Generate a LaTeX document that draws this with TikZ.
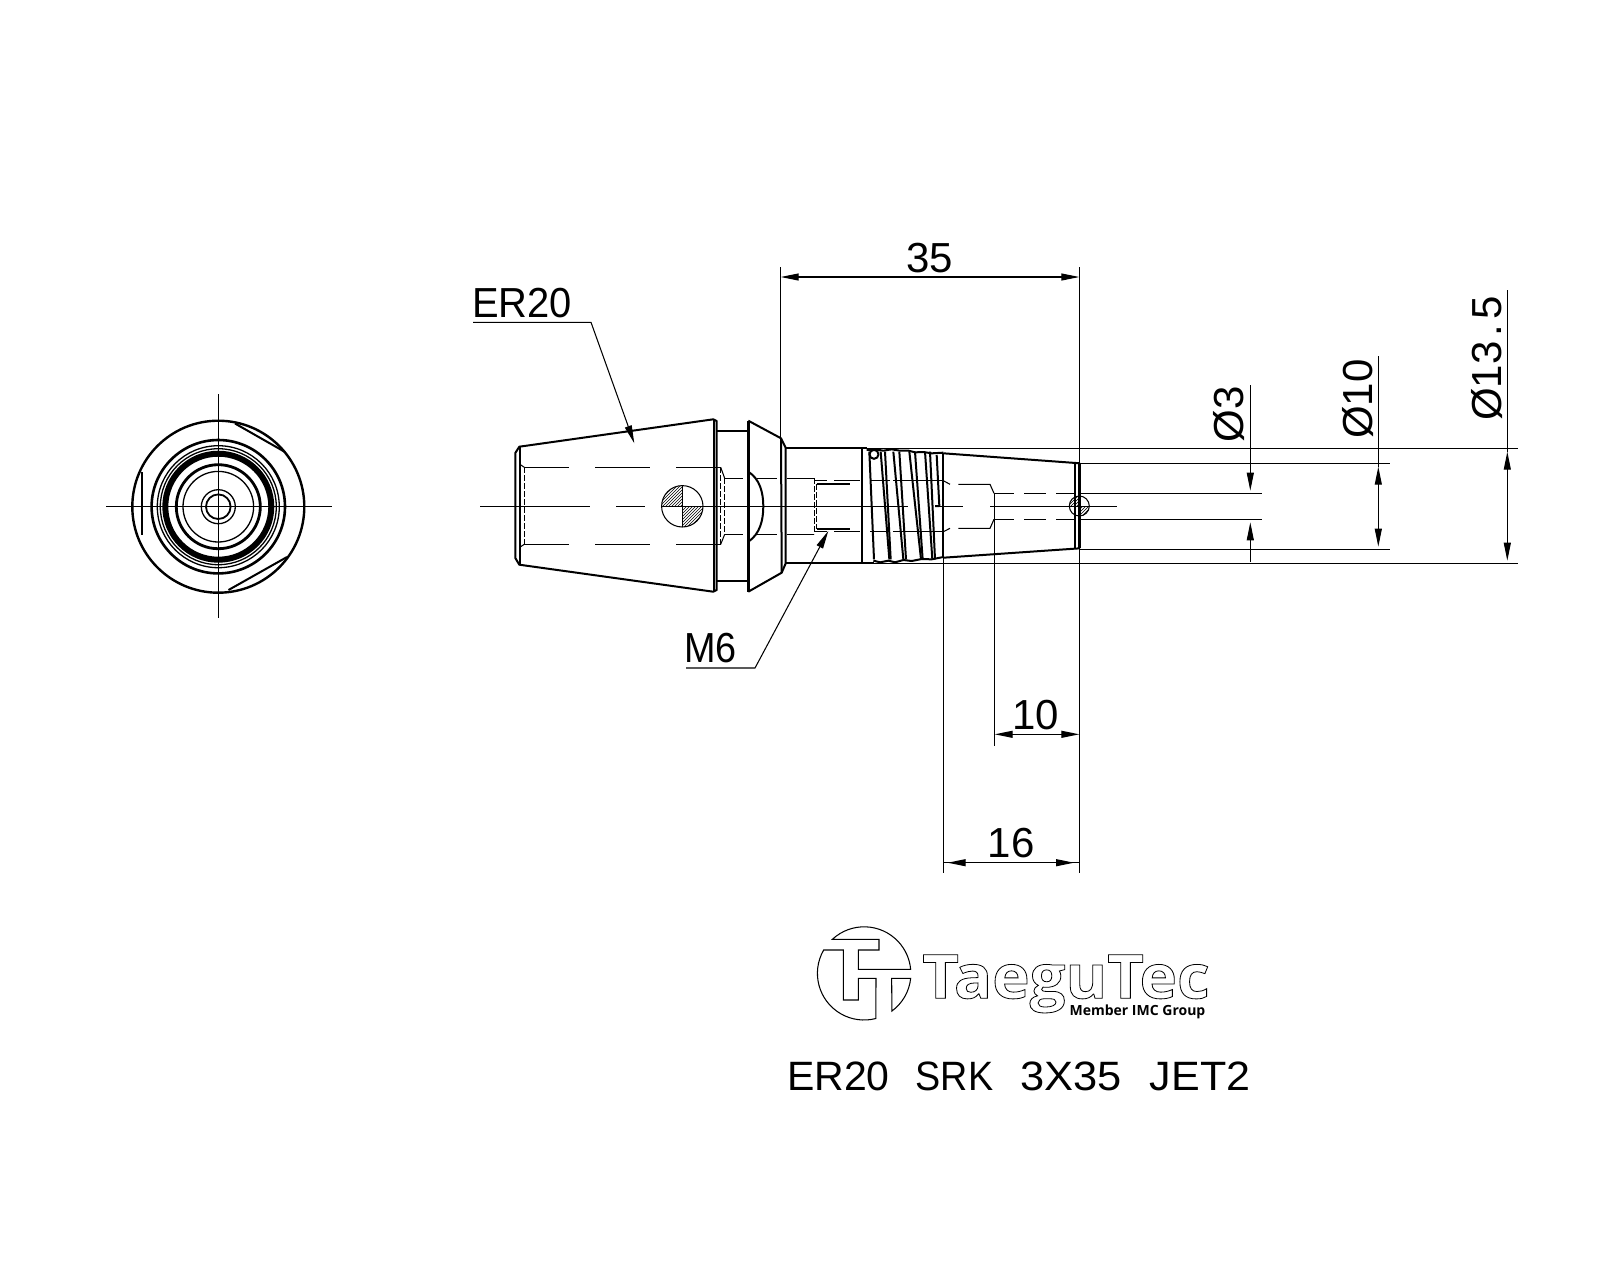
\documentclass[tikz,border=0pt]{standalone}
\usepackage{xcolor}
\usepackage{fontspec}
\setmainfont{Liberation Sans}
\newfontfamily\logofont{Open Sans}
\usetikzlibrary{arrows.meta,patterns}
\newcommand{\outlinetext}[1]{\special{pdf:code 1 Tr 0.8 w}#1\special{pdf:code 0 Tr 1 w}}
\begin{document}
\begin{tikzpicture}[x=1pt,y=-1pt,
  bodyline/.style={line width=2pt,line join=round},
  heavyline/.style={line width=3.2pt},
  thinline/.style={line width=1.05pt},
  dimtip/.style={-{Triangle[length=18pt,width=7pt]}},
  dimboth/.style={{Triangle[length=18pt,width=7pt]}-{Triangle[length=18pt,width=7pt]}},
  dimtext/.style={anchor=base,inner sep=0pt,font=\fontsize{42}{42}\selectfont}]
\useasboundingbox (0,0) rectangle (1600,1280);

% end view
\draw[thinline](106,506.7) -- (331.7,506.7);
\draw[thinline](218.3,394) -- (218.3,618);
\foreach\r/\w in{86/2.4,66.7/2.6,61/1.3,58/1.3,53/6,42/2.8,35.3/1.3,17/1.3,12.3/1.8}{\draw[line width=\w pt](218.3,506.7) circle[radius=\r pt];};
\draw[bodyline](235,423.5) -- (285,452);
\draw[bodyline](228.5,590) -- (287,557);
\draw[bodyline](141.7,472) -- (141.7,535);

% taper
\draw[bodyline](519.3,446.7) -- (713.3,419.3) -- (716.7,421) -- (716.7,590) -- (713.3,591.7) -- (519.3,564.7) -- (515.3,558) -- (515.3,453) -- cycle;
\draw[bodyline](520,446.7) -- (520,564.7);
\draw[bodyline](713.5,419.3) -- (713.5,591.7);
\draw[bodyline](717,430.7) -- (747,430.7);
\draw[bodyline](717,581) -- (747,581);

% flange
\draw[heavyline](748.3,420.7) -- (748.3,591.7);
\draw[bodyline](748.3,420.7) -- (781,438.3) -- (781.7,572.7) -- (748.3,591.7);
\draw[bodyline](781,438.3) -- (785.7,447.7) -- (785.7,563.3) -- (781.7,572.7);
\draw[bodyline](748.3,471.7) .. controls (760,479) and (763.3,493) .. (763.3,506.3) .. controls (763.3,520) and (760,534) .. (748.3,541.7);

% shank
\draw[bodyline](785.7,447.7) -- (866.7,447.7);
\draw[bodyline](785.7,563.3) -- (874,563.3);
\draw[bodyline](862,447.7) -- (862,563.3);

% cone
\draw[bodyline](943.3,453.3) -- (1080,463.3);
\draw[bodyline](943.3,557.7) -- (1080,548.3);
\draw[bodyline](943.3,453.3) -- (943.3,557.7);
\draw[bodyline](1075,463.3) -- (1075,548.3);
\draw[line width=2.6pt](1079.5,463.3) -- (1079.5,548.3);

% thread
\begin{scope}[shift={(850,420)},scale=1/3]
\foreach\a/\b in{58/72,92/118,105/122,130/160,148/168,178/213,195/218,225/247,240/255}{\draw[bodyline](\a,95) -- (\b,418);};
\draw[bodyline](260,105) -- (268,258) -- (255,258);
\draw[bodyline](50,90) -- (75,88) -- (100,92) -- (125,88) -- (150,92) -- (175,92) -- (195,97) -- (220,96) -- (245,100) -- (280,98);
\draw[bodyline](70,422) -- (90,427) -- (115,422) -- (135,427) -- (160,420) -- (185,423) -- (215,417) -- (245,418) -- (280,411);
\draw[bodyline](72,103) circle[radius=13.5pt];
\end{scope}

% hidden lines
\foreach\a/\b in{524.3/569,595/650,676/720.7}{
  \draw[thinline](\a,467.3) -- (\b,467.3);
  \draw[thinline](\a,544.3) -- (\b,544.3);};
\foreach\a/\b in{725/743,757/777,787/814.3}{
  \draw[thinline](\a,478.3) -- (\b,478.3);
  \draw[thinline](\a,534.3) -- (\b,534.3);};
\foreach\a/\b in{815/827,834/860,870/890,893.3/943.3}{
  \draw[thinline](\a,480.7) -- (\b,480.7);
  \draw[thinline](\a,531.7) -- (\b,531.7);};
\foreach\a/\b in{994.7/1014,1024/1046,1056/1076}{
  \draw[thinline](\a,493.3) -- (\b,493.3);
  \draw[thinline](\a,519.3) -- (\b,519.3);};
\draw[thinline](519.3,464) -- (524.3,467.3);
\draw[thinline](519.3,547.6) -- (524.3,544.3);
\draw[thinline](720.7,467.3) -- (724.7,478.3);
\draw[thinline](720.7,544.3) -- (724.7,534.3);
\draw[thinline,dashed,dash pattern=on 6pt off 2pt](524.3,467.3) -- (524.3,544.3);
\draw[thinline,dashed,dash pattern=on 6pt off 2pt](720.7,467.3) -- (720.7,544.3);
\draw[thinline,dashed,dash pattern=on 6pt off 2pt](724.7,478.3) -- (724.7,534.3);
\draw[thinline,dashed,dash pattern=on 6pt off 2pt](814.3,478.3) -- (814.3,534.3);
\draw[thinline,dashed,dash pattern=on 6pt off 2pt](816.7,484) -- (816.7,529);
\draw[thinline,dashed,dash pattern=on 6pt off 2pt](994.7,493.3) -- (994.7,519.3);
\draw[thinline](816.7,484) -- (850,484);
\draw[thinline](816.7,529) -- (850,529);
\draw[thinline](943.3,480.7) -- (950,484.3);
\draw[thinline](943.3,531.7) -- (950,528.3);
\draw[thinline](958.3,484.3) -- (990,484.3) -- (994,493.3);
\draw[thinline](958.3,528.3) -- (990,528.3) -- (994,519.3);

% axis
\foreach\a/\b in{480/590,616/645,662/908,935/963,990/1116.7}{\draw[thinline](\a,506.3) -- (\b,506.3);};

% cross holes
\draw[thinline](682.3,506.3) circle[radius=20.7pt];
\draw[thinline](682.3,485.6) -- (682.3,527);
\fill[pattern=north east lines](661.6,506.3) arc[start angle=180,end angle=90,radius=20.7pt] -- (682.3,506.3) -- cycle;
\fill[pattern=north east lines](703,506.3) arc[start angle=0,end angle=-90,radius=20.7pt] -- (682.3,506.3) -- cycle;
\draw[thinline](1079.3,506) circle[radius=10pt];
\fill[pattern=north east lines](1069.3,506) arc[start angle=180,end angle=90,radius=10pt] -- (1079.3,506) -- cycle;
\fill[pattern=north east lines](1089.3,506) arc[start angle=0,end angle=-90,radius=10pt] -- (1079.3,506) -- cycle;

% extension lines
\draw[thinline](780.7,267) -- (780.7,438);
\draw[thinline](1079.3,267) -- (1079.3,873.3);
\draw[thinline](943.3,557) -- (943.3,873.3);
\draw[thinline](994.7,493) -- (994.7,746);
\draw[thinline](866,448.3) -- (1518,448.3);
\draw[thinline](1079,463.3) -- (1390,463.3);
\draw[thinline](1079,493.3) -- (1261.7,493.3);
\draw[thinline](1079,519.3) -- (1261.7,519.3);
\draw[thinline](1079,549.3) -- (1390,549.3);
\draw[thinline](866,563.3) -- (1518,563.3);

% dimensions
\draw[thinline,dimboth](780.7,277) -- (1079.3,277);
\draw[thinline,dimboth](994.7,734.3) -- (1079.3,734.3);
\draw[thinline](943.3,862.7) -- (1079.3,862.7);
\draw[thinline,dimboth](947.7,862.7) -- (1074,862.7);
\draw[thinline,dimtip](1250.3,385) -- (1250.3,490.7);
\draw[thinline,dimtip](1250.3,561.7) -- (1250.3,522.3);
\draw[thinline](1378.3,356) -- (1378.3,466.7);
\draw[thinline,dimboth](1378.3,466.7) -- (1378.3,546.7);
\draw[thinline](1507.3,290) -- (1507.3,451.7);
\draw[thinline,dimboth](1507.3,451.7) -- (1507.3,560.7);
\node[dimtext] (dim35) at (929.5,272.7) {35};
\node[dimtext] (dim10) at (1035.5,729) {10};
\node[dimtext] (dim16) at (1011,857) {16};
\node[dimtext,rotate=90] (dia3) at (1243,414) {Ø3};
\node[dimtext,rotate=90] (dia10) at (1372.7,399) {Ø10};
\node[dimtext,rotate=90] (dia13) at (1501,358.7) {Ø13\kern5pt.\kern5pt5};

% leaders
\coordinate (tipER) at (634.3,443.3);
\coordinate (tipM) at (828.3,531);
\node[dimtext,anchor=base west,xscale=0.95] (labelER) at (472,317) {ER20};
\node[dimtext,anchor=base west,xscale=0.9] (labelM) at (684,662.7) {M6};
\draw[thinline,dimtip](473,322.3) -- (591,322.3) -- (tipER);
\draw[thinline,dimtip](686,668) -- (755,668) -- (tipM);

% logo
\begin{scope}[shift={(800,910)},scale=1/3]
\draw[thinline](97,88) arc[start angle=133,end angle=5,radius=140pt] -- (175,178) -- (175,120) -- (237,120) -- (237,88) -- cycle;
\draw[thinline](71,120) arc[start angle=150,end angle=284.6,radius=140pt] -- (228,205) -- (175,205) -- (175,270) -- (130,270) -- (130,120) -- cycle;
\draw[thinline](332,205) arc[start angle=-6,end angle=-53.7,radius=140pt] -- (275,205) -- cycle;
\end{scope}
\node[anchor=base west,inner sep=0pt,xscale=1.04,font=\logofont\bfseries\fontsize{61}{61}\selectfont] (logoname) at (922,998.3) {\outlinetext{TaeguTec}};
\node[anchor=base east,inner sep=0pt,font=\logofont\bfseries\fontsize{14}{14}\selectfont] (logosub) at (1205.5,1015) {Member IMC Group};

% title
\node[anchor=base west,inner sep=0pt,font=\fontsize{41}{41}\selectfont] (title) at (787,1090) {ER20\hspace{26pt}\scalebox{0.92}[1]{SRK}\hspace{27pt}\scalebox{1.06}[1]{3X35}\hspace{28pt}\scalebox{1.05}[1]{JET2}};
\end{tikzpicture}
\end{document}
